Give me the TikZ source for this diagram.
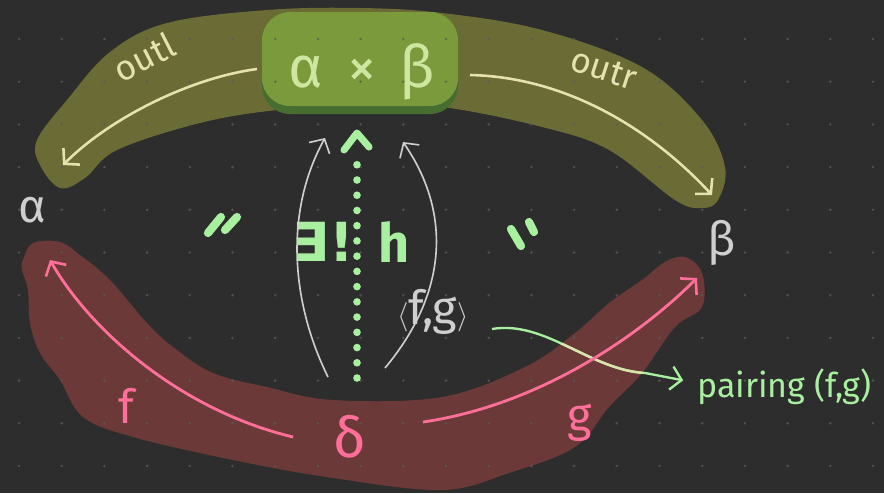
\documentclass[tikz,border=0pt]{standalone}
\usepackage{fontspec}
\setmainfont{Fira Sans}
\newfontfamily\symfont{DejaVu Sans}
\usetikzlibrary{arrows.meta}

\definecolor{board}{HTML}{2D2D2D}
\definecolor{griddot}{HTML}{5A5A5A}
\definecolor{oliveband}{HTML}{6B6B35}
\definecolor{prodlight}{HTML}{7B9A3B}
\definecolor{proddark}{HTML}{476E31}
\definecolor{prodtext}{HTML}{CFE6A0}
\definecolor{cream}{HTML}{E6E2B0}
\definecolor{redband}{HTML}{6B3A38}
\definecolor{pinkline}{HTML}{FF6F9A}
\definecolor{mint}{HTML}{A8F0A0}
\definecolor{chalk}{HTML}{CFCFCF}

\tikzset{
	barb/.style={-{Straight Barb[length=9pt,width=20pt,line width=2.2pt]}},
	projarrow/.style={cream, line width=2.2pt, barb},
	legarrow/.style={pinkline, line width=2.4pt, barb},
	hintarrow/.style={chalk, line width=1.4pt, -{Straight Barb[length=9pt,width=20pt,line width=1.4pt]}},
	txt/.style={inner sep=0pt, text depth=0pt}
}

\begin{document}
\begin{tikzpicture}[x=0.03cm, y=-0.03cm]
	\fill[board] (0,0) rectangle (884,493);
	\useasboundingbox (0,0) rectangle (884,493);

	% the two brush strokes
	\fill[oliveband] plot[smooth cycle, tension=0.6] coordinates {(60,188) (40,165) (37,140) (67,100) (110,52) (167,23) (267,10) (360,8) (442,13) (542,30) (642,67) (702,120) (725,167) (718,200) (702,208) (675,200) (609,150) (542,127) (442,107) (360,105) (277,110) (200,123) (117,150) (85,178)};
	\fill[redband] plot[smooth cycle, tension=0.6] coordinates {(23,260) (33,243) (60,242) (80,255) (110,280) (147,323) (173,347) (213,373) (267,387) (333,400) (442,397) (525,367) (575,333) (609,303) (642,280) (665,262) (685,257) (702,273) (702,307) (675,327) (642,373) (609,407) (575,447) (509,473) (442,490) (333,478) (233,460) (133,437) (83,417) (60,380) (40,353) (30,323) (28,290) (22,270)};
	\fill[proddark, rounded corners=24] (262,12) rectangle (458,114);
	\fill[prodlight, rounded corners=24] (262,12) rectangle (458,106);

	\foreach \i in {0,...,20} {
		\foreach \j in {0,...,11} {
			\fill[griddot, opacity=.8] (19+42.7*\i, 39+42.7*\j) circle (1.4);
		}
	}

	% objects
	\node[txt, text=prodtext, font=\fontsize{50}{50}\selectfont] (prod) at (362,66) {α\hspace{0.4em}×\hspace{0.4em}β};
	\node[txt, text=chalk, font=\fontsize{40}{40}\selectfont] (alpha) at (32,210) {α};
	\node[txt, text=chalk, font=\fontsize{40}{40}\selectfont] (beta) at (722,238) {β};
	\node[txt, text=pinkline, font=\fontsize{48}{48}\selectfont] (delta) at (350,436) {δ};

	\coordinate (outl end) at (63,165);
	\coordinate (outr end) at (712,195);
	\coordinate (f end) at (50,260);
	\coordinate (g end) at (697,278);
	\coordinate (f start) at (293,437);
	\coordinate (g start) at (423,422);
	\coordinate (h start) at (357,378);
	\coordinate (h end) at (357,133);

	% projections
	\draw[projarrow] (257,69) .. controls (190,78) and (110,118) .. (outl end);
	\draw[projarrow] (470,75) .. controls (565,77) and (650,128) .. (outr end);
	\node[txt, text=cream, rotate=27, font=\fontsize{30}{30}\selectfont] (outl) at (144,57) {outl};
	\node[txt, text=cream, rotate=-18, font=\fontsize{30}{30}\selectfont] (outr) at (604,69) {outr};

	% legs of the cone
	\draw[legarrow] (f start) .. controls (180,410) and (90,330) .. (f end);
	\node[txt, text=pinkline, font=\fontsize{40}{40}\selectfont] (f) at (126,406) {f};
	\node[txt, text=pinkline, font=\fontsize{40}{40}\selectfont] (g) at (580,418) {g};

	% the unique arrow
	\draw[mint, line width=6.5, line cap=round, dash pattern=on 0pt off 13] (h start) -- (357,150);
	\draw[mint, line width=6, line cap=round, line join=round] (344,150) -- (h end) -- (369,147);
	\node[txt, text=mint, font=\symfont\bfseries\fontsize{46}{46}\selectfont] (exists) at (323,242) {∃!};
	\node[txt, text=mint, font=\bfseries\fontsize{46}{46}\selectfont] (h) at (394,242) {h};

	\draw[hintarrow] (328,377) .. controls (290,300) and (285,210) .. (325,138);
	\draw[hintarrow] (385,368) .. controls (450,290) and (450,210) .. (403,142);
	\node[txt, text=chalk, font=\fontsize{40}{40}\selectfont] (pair) at (433,307) {$\langle$f,g$\rangle$};

	% commuting marks
	\draw[mint, line width=7, line cap=round] (208,233) -- (221,217) (225,230) -- (237,217);
	\draw[mint, line width=7, line cap=round] (511,229) -- (521,246) (529,222) -- (534,232);

	% note
	\node[txt, text=mint, anchor=west, font=\fontsize{29}{29}\selectfont] (note) at (697,383) {pairing (f,g)};
	\draw[mint, line width=2, shorten >=12, -{Straight Barb[length=9pt,width=20pt,line width=2pt]}] (492,329) .. controls (545,320) and (590,370) .. (645,373) -- (note.west);
	\begin{scope}
		\clip plot[smooth cycle, tension=0.6] coordinates {(23,260) (33,243) (60,242) (80,255) (110,280) (147,323) (173,347) (213,373) (267,387) (333,400) (442,397) (525,367) (575,333) (609,303) (642,280) (665,262) (685,257) (702,273) (702,307) (675,327) (642,373) (609,407) (575,447) (509,473) (442,490) (333,478) (233,460) (133,437) (83,417) (60,380) (40,353) (30,323) (28,290) (22,270)};
		\draw[cream!85!mint, line width=2] (492,329) .. controls (545,320) and (590,370) .. (645,373) -- (note.west);
	\end{scope}
	\draw[legarrow] (g start) .. controls (540,405) and (640,335) .. (g end);
\end{tikzpicture}
\end{document}
